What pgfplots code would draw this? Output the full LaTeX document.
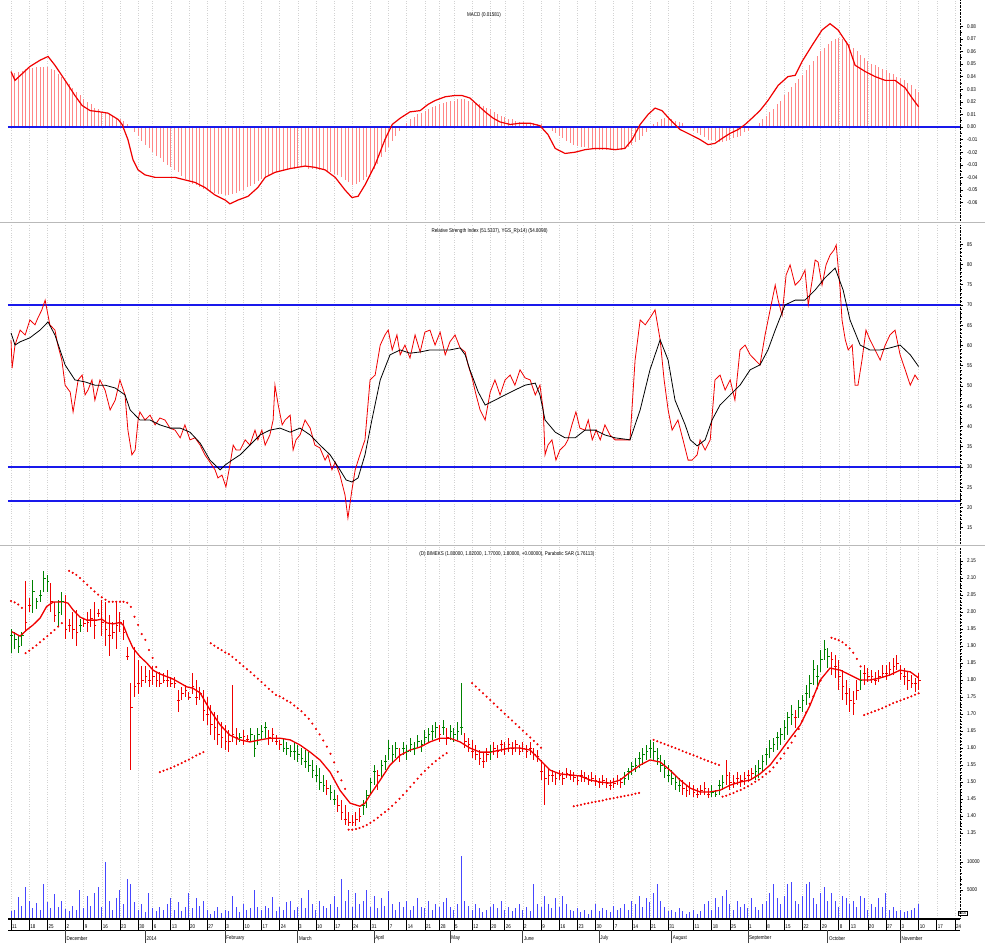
\documentclass[border=0pt]{standalone}
\usepackage{pgfplots}
\usepackage{pgfplotstable}
\pgfplotsset{compat=1.18}
\usepackage{fontspec}
\setmainfont{Liberation Sans}[FakeStretch=0.82]

\definecolor{upg}{RGB}{0,130,0}
\definecolor{dnr}{RGB}{240,0,0}
\definecolor{histr}{RGB}{255,135,135}
\definecolor{volb}{RGB}{70,70,255}
\definecolor{lineblue}{RGB}{25,25,235}
\newcommand{\tf}{\fontsize{5.5}{6.5}\selectfont}

\pgfplotstableread{
d h l c
0 1.95 1.88 1.93
1 1.94 1.89 1.92
2 1.93 1.88 1.90
3 1.94 1.90 1.93
6 2.094 1.997 2.06
7 2.04 2.01 2.03
8 2.065 2.03 2.05
9 2.12 2.06 2.10
10 2.11 2.06 2.09
13 2.035 1.96 2.00
14 2.06 1.99 2.03
19 1.98 1.94 1.96
63 1.644 1.618 1.63
66 1.66 1.618 1.64
67 1.638 1.574 1.60
68 1.66 1.61 1.64
69 1.668 1.624 1.65
70 1.676 1.63 1.66
75 1.629 1.588 1.60
76 1.618 1.579 1.60
77 1.609 1.574 1.59
78 1.618 1.565 1.59
79 1.609 1.559 1.58
80 1.60 1.55 1.57
81 1.594 1.541 1.56
82 1.588 1.529 1.55
83 1.565 1.512 1.535
84 1.55 1.50 1.52
85 1.541 1.476 1.50
86 1.52 1.471 1.49
88 1.491 1.447 1.47
89 1.476 1.432 1.45
97 1.447 1.403 1.43
98 1.476 1.424 1.46
99 1.512 1.462 1.50
100 1.55 1.491 1.53
102 1.565 1.512 1.55
103 1.579 1.535 1.56
104 1.624 1.565 1.60
105 1.609 1.559 1.58
106 1.618 1.571 1.60
108 1.618 1.579 1.60
109 1.609 1.565 1.59
110 1.629 1.588 1.61
111 1.618 1.579 1.60
112 1.638 1.60 1.62
113 1.624 1.588 1.61
114 1.653 1.609 1.63
115 1.66 1.618 1.64
116 1.668 1.624 1.65
117 1.676 1.629 1.66
119 1.682 1.638 1.66
121 1.668 1.624 1.65
122 1.66 1.618 1.64
123 1.676 1.624 1.65
124 1.791 1.638 1.66
132 1.609 1.565 1.59
169 1.529 1.491 1.51
170 1.541 1.506 1.53
171 1.559 1.521 1.545
172 1.571 1.529 1.55
173 1.588 1.541 1.57
174 1.60 1.55 1.58
175 1.609 1.565 1.59
176 1.624 1.571 1.60
177 1.618 1.565 1.59
178 1.60 1.55 1.57
179 1.579 1.529 1.55
180 1.565 1.512 1.54
181 1.55 1.50 1.52
182 1.535 1.491 1.51
183 1.521 1.476 1.50
184 1.512 1.471 1.49
193 1.491 1.456 1.47
194 1.476 1.456 1.465
195 1.506 1.462 1.49
196 1.521 1.476 1.50
205 1.55 1.506 1.53
206 1.565 1.512 1.54
207 1.579 1.529 1.56
208 1.60 1.55 1.58
209 1.624 1.571 1.60
210 1.629 1.588 1.61
211 1.647 1.594 1.63
212 1.66 1.609 1.64
213 1.682 1.624 1.66
214 1.706 1.638 1.69
215 1.726 1.668 1.70
217 1.741 1.688 1.72
218 1.756 1.706 1.74
219 1.785 1.726 1.76
220 1.815 1.747 1.79
221 1.859 1.785 1.83
222 1.844 1.776 1.81
223 1.888 1.824 1.86
224 1.918 1.859 1.89
225 1.894 1.835 1.87
234 1.829 1.771 1.80
}\uptab

\pgfplotstableread{
d h l c
4 2.09 1.94 1.97
5 2.04 2.00 2.02
11 2.085 2.00 2.03
12 2.03 1.97 1.99
15 2.05 1.92 1.95
16 1.98 1.94 1.96
17 2.00 1.92 1.95
18 2.006 1.90 1.94
20 1.98 1.955 1.965
21 2.00 1.94 1.97
22 2.01 1.955 1.98
23 2.03 1.92 1.96
24 2.01 1.985 1.995
25 2.035 1.93 1.97
26 2.03 1.90 1.95
27 1.99 1.87 1.93
28 1.97 1.92 1.94
29 2.03 1.89 1.96
30 2.00 1.94 1.97
31 1.976 1.918 1.94
32 1.897 1.859 1.87
33 1.79 1.535 1.72
34 1.897 1.75 1.78
35 1.86 1.76 1.79
36 1.84 1.78 1.80
37 1.84 1.79 1.81
38 1.83 1.78 1.80
39 1.84 1.785 1.81
40 1.82 1.78 1.80
41 1.823 1.78 1.79
42 1.82 1.79 1.80
43 1.83 1.78 1.80
44 1.81 1.78 1.79
45 1.81 1.777 1.79
46 1.77 1.706 1.74
47 1.78 1.74 1.76
48 1.785 1.75 1.77
49 1.765 1.74 1.75
50 1.82 1.76 1.78
51 1.80 1.726 1.75
52 1.78 1.74 1.76
53 1.77 1.68 1.71
54 1.75 1.668 1.70
55 1.726 1.638 1.67
56 1.706 1.624 1.66
57 1.697 1.609 1.64
58 1.676 1.60 1.63
59 1.668 1.594 1.62
60 1.653 1.588 1.62
61 1.785 1.618 1.64
62 1.66 1.61 1.63
64 1.653 1.609 1.635
65 1.638 1.618 1.625
71 1.653 1.61 1.63
72 1.66 1.618 1.64
73 1.638 1.609 1.62
74 1.624 1.594 1.61
87 1.506 1.462 1.48
90 1.462 1.412 1.43
91 1.447 1.388 1.41
92 1.432 1.374 1.39
93 1.412 1.37 1.38
94 1.403 1.37 1.38
95 1.412 1.37 1.39
96 1.424 1.382 1.40
101 1.535 1.476 1.52
107 1.60 1.559 1.58
118 1.668 1.618 1.64
120 1.66 1.609 1.63
125 1.644 1.60 1.62
126 1.629 1.588 1.61
127 1.624 1.571 1.59
128 1.609 1.565 1.58
129 1.594 1.55 1.57
130 1.588 1.541 1.56
131 1.60 1.559 1.58
133 1.618 1.579 1.60
134 1.609 1.571 1.59
135 1.624 1.588 1.61
136 1.618 1.579 1.60
137 1.629 1.588 1.61
138 1.618 1.579 1.60
139 1.624 1.588 1.61
140 1.609 1.579 1.59
141 1.618 1.588 1.60
142 1.609 1.571 1.59
143 1.618 1.579 1.60
144 1.60 1.565 1.58
145 1.594 1.559 1.575
146 1.565 1.506 1.53
147 1.55 1.432 1.51
148 1.541 1.491 1.52
149 1.535 1.50 1.52
150 1.529 1.491 1.51
151 1.535 1.506 1.52
152 1.529 1.491 1.51
153 1.541 1.512 1.525
154 1.535 1.506 1.52
155 1.529 1.50 1.515
156 1.521 1.491 1.505
157 1.535 1.50 1.52
158 1.529 1.50 1.515
159 1.521 1.491 1.505
160 1.529 1.50 1.51
161 1.521 1.488 1.505
162 1.512 1.482 1.50
163 1.521 1.491 1.505
164 1.512 1.482 1.495
165 1.506 1.476 1.49
166 1.512 1.482 1.495
167 1.521 1.491 1.505
168 1.512 1.482 1.50
185 1.506 1.462 1.48
186 1.491 1.456 1.475
187 1.50 1.462 1.48
188 1.491 1.456 1.47
189 1.482 1.453 1.465
190 1.491 1.462 1.475
191 1.50 1.462 1.48
192 1.482 1.453 1.465
197 1.565 1.491 1.52
198 1.529 1.476 1.50
199 1.521 1.482 1.50
200 1.529 1.491 1.51
201 1.521 1.485 1.505
202 1.529 1.491 1.51
203 1.535 1.50 1.52
204 1.541 1.506 1.525
216 1.712 1.66 1.69
226 1.882 1.815 1.86
227 1.874 1.806 1.84
228 1.859 1.771 1.81
229 1.829 1.741 1.78
230 1.80 1.726 1.76
231 1.776 1.706 1.74
232 1.768 1.697 1.73
233 1.80 1.741 1.77
235 1.844 1.785 1.82
236 1.835 1.794 1.81
237 1.829 1.791 1.81
238 1.823 1.785 1.80
239 1.829 1.794 1.81
240 1.844 1.806 1.82
241 1.844 1.80 1.82
242 1.853 1.812 1.83
243 1.865 1.815 1.84
244 1.874 1.829 1.85
245 1.844 1.80 1.82
246 1.835 1.785 1.81
247 1.823 1.771 1.80
248 1.815 1.776 1.79
249 1.806 1.765 1.79
250 1.82 1.77 1.80
}\dntab

\pgfplotsset{
  weekticks/.style={xtick={0,5,10,15,20,25,30,35,39,44,49,54,59,64,69,74,79,84,89,94,99,104,109,114,118,122,127,132,136,141,146,151,156,161,166,171,176,181,188,193,198,203,208,213,218,223,228,231,236,241,245,250,255,260}},
  panel/.style={
    scale only axis, width=952pt, xmin=-0.83, xmax=261.4, clip=false,
    anchor=south west,
    axis line style={draw=none},
    weekticks, xticklabels={}, x tick style={draw=none},
    xmajorgrids, x grid style={gray!35, dotted, line width=0.5pt},
    ytick pos=right, yticklabel pos=right, tick align=outside,
    major tick length=3pt, minor tick length=1.5pt,
    y tick style={black, line width=0.5pt},
    yticklabel style={font=\tf, anchor=west, xshift=0.5pt},
    /pgf/number format/assume math mode=true,
    scaled y ticks=false,
  },
}

\begin{document}
\begin{tikzpicture}
\useasboundingbox (0,0) rectangle (985pt,943pt);

% ---------------- MACD ----------------
\begin{axis}[panel, at={(8pt,721pt)}, height=222pt,
  ymin=-0.0754, ymax=0.1008,
  ytick={-0.06,-0.05,-0.04,-0.03,-0.02,-0.01,0,0.01,0.02,0.03,0.04,0.05,0.06,0.07,0.08},
  minor y tick num=1,
  yticklabel style={/pgf/number format/.cd, fixed, fixed zerofill, precision=2}]
\addplot[ycomb, color=histr, line width=0.7pt, mark=none] coordinates {
(0,0.042)(1,0.043)(2,0.044)(3,0.0445)(4,0.046)(5,0.047)(6,0.047)(7,0.0475)(8,0.048)(9,0.048)(10,0.0475)(11,0.046)(12,0.045)(13,0.042)(14,0.040)(15,0.037)(16,0.034)(17,0.031)(18,0.028)(19,0.025)(20,0.022)(21,0.020)(22,0.018)(23,0.015)(24,0.014)(25,0.012)(26,0.011)(27,0.010)(28,0.009)(29,0.007)(30,0.006)(31,0.005)(32,0.002)(33,0.000)(34,-0.004)(35,-0.007)(36,-0.011)(37,-0.014)(38,-0.017)(39,-0.020)(40,-0.023)(41,-0.025)(42,-0.028)(43,-0.030)(44,-0.032)(45,-0.034)(46,-0.036)(47,-0.039)(48,-0.041)(49,-0.043)(50,-0.045)(51,-0.046)(52,-0.048)(53,-0.049)(54,-0.050)(55,-0.051)(56,-0.052)(57,-0.053)(58,-0.053)(59,-0.054)(60,-0.054)(61,-0.053)(62,-0.052)(63,-0.051)(64,-0.050)(65,-0.048)(66,-0.047)(67,-0.045)(68,-0.043)(69,-0.041)(70,-0.040)(71,-0.038)(72,-0.037)(73,-0.036)(74,-0.035)(75,-0.034)(76,-0.033)(77,-0.033)(78,-0.033)(79,-0.032)(80,-0.032)(81,-0.032)(82,-0.033)(83,-0.033)(84,-0.033)(85,-0.034)(86,-0.034)(87,-0.035)(88,-0.036)(89,-0.037)(90,-0.038)(91,-0.040)(92,-0.042)(93,-0.044)(94,-0.046)(95,-0.045)(96,-0.044)(97,-0.042)(98,-0.040)(99,-0.038)(100,-0.033)(101,-0.029)(102,-0.024)(103,-0.020)(104,-0.016)(105,-0.011)(106,-0.007)(107,-0.003)(108,0.000)(109,0.003)(110,0.006)(111,0.008)(112,0.010)(113,0.011)(114,0.013)(115,0.014)(116,0.016)(117,0.017)(118,0.018)(119,0.019)(120,0.020)(121,0.021)(122,0.021)(123,0.022)(124,0.022)(125,0.022)(126,0.021)(127,0.020)(128,0.019)(129,0.018)(130,0.017)(131,0.015)(132,0.014)(133,0.012)(134,0.010)(135,0.009)(136,0.008)(137,0.006)(138,0.006)(139,0.005)(140,0.004)(141,0.004)(142,0.003)(143,0.003)(144,0.003)(145,0.002)(146,0.002)(147,0.000)(148,-0.001)(149,-0.003)(150,-0.005)(151,-0.007)(152,-0.009)(153,-0.011)(154,-0.013)(155,-0.014)(156,-0.015)(157,-0.016)(158,-0.016)(159,-0.017)(160,-0.017)(161,-0.018)(162,-0.018)(163,-0.018)(164,-0.018)(165,-0.018)(166,-0.018)(167,-0.018)(168,-0.018)(169,-0.017)(170,-0.016)(171,-0.014)(172,-0.012)(173,-0.010)(174,-0.007)(175,-0.004)(176,-0.001)(177,0.002)(178,0.004)(179,0.006)(180,0.007)(181,0.007)(182,0.006)(183,0.005)(184,0.004)(185,0.003)(186,0.001)(187,-0.001)(188,-0.003)(189,-0.005)(190,-0.006)(191,-0.008)(192,-0.010)(193,-0.010)(194,-0.011)(195,-0.012)(196,-0.012)(197,-0.011)(198,-0.010)(199,-0.009)(200,-0.008)(201,-0.007)(202,-0.004)(203,-0.003)(204,-0.001)(205,0.001)(206,0.003)(207,0.006)(208,0.009)(209,0.012)(210,0.014)(211,0.018)(212,0.021)(213,0.025)(214,0.028)(215,0.032)(216,0.035)(217,0.038)(218,0.041)(219,0.045)(220,0.049)(221,0.052)(222,0.056)(223,0.060)(224,0.063)(225,0.066)(226,0.068)(227,0.070)(228,0.071)(229,0.070)(230,0.068)(231,0.066)(232,0.063)(233,0.060)(234,0.057)(235,0.055)(236,0.052)(237,0.050)(238,0.049)(239,0.048)(240,0.046)(241,0.045)(242,0.043)(243,0.042)(244,0.040)(245,0.039)(246,0.037)(247,0.035)(248,0.033)(249,0.030)(250,0.028)};
\addplot[color=lineblue, line width=1.4pt] coordinates {(-0.83,0)(261.4,0)};
\addplot[color=dnr, line width=1.2pt] coordinates {
(0,0.044)(1.1,0.037)(5.2,0.048)(8,0.053)(10.2,0.056)(12.1,0.049)(14.9,0.037)(17.6,0.025)(19.6,0.017)(21.8,0.013)(24.5,0.012)(26.7,0.011)(29.5,0.006)(30.6,0.002)(32.2,-0.010)(33.6,-0.026)(35,-0.034)(36.9,-0.038)(39.7,-0.040)(42.4,-0.040)(45.2,-0.040)(47.9,-0.042)(50.7,-0.044)(53.4,-0.048)(56.2,-0.054)(59,-0.058)(60.3,-0.061)(62.5,-0.058)(65.3,-0.055)(68,-0.048)(70,-0.040)(72.7,-0.036)(76.9,-0.033)(81,-0.031)(83.7,-0.032)(86.5,-0.034)(89.3,-0.040)(92,-0.050)(93.9,-0.056)(95.6,-0.055)(97.5,-0.046)(100.3,-0.030)(103,-0.010)(105,0.002)(107.2,0.007)(109.9,0.012)(112.7,0.013)(114.9,0.018)(116.8,0.021)(119.6,0.024)(122.3,0.025)(124.2,0.025)(126.4,0.023)(128.7,0.017)(130.6,0.012)(132.8,0.007)(134.7,0.004)(137.5,0.002)(140.2,0.003)(143,0.003)(145.7,0.001)(147.9,-0.006)(149.9,-0.017)(152.6,-0.021)(155.4,-0.020)(158.1,-0.018)(160.9,-0.017)(163.6,-0.017)(166.4,-0.018)(169.1,-0.017)(171.1,-0.010)(173.3,0.002)(175.5,0.010)(177.4,0.015)(179.3,0.013)(181.5,0.006)(184.3,-0.002)(187.1,-0.006)(189.8,-0.010)(192,-0.014)(193.9,-0.013)(195.9,-0.009)(198.1,-0.005)(200.3,-0.002)(202.2,0.002)(204.1,0.007)(206.3,0.013)(208.5,0.021)(211.3,0.033)(214,0.040)(216,0.041)(217.9,0.052)(220.7,0.065)(223.4,0.077)(225.6,0.082)(227.8,0.077)(230.6,0.065)(232.5,0.049)(235.3,0.044)(238,0.040)(240.8,0.037)(243.5,0.037)(246.3,0.031)(248.2,0.023)(250,0.016)};
\node[font=\tf] at (rel axis cs:0.5,0.932) {MACD (0.01581)};
\draw[black, densely dotted, line width=0.4pt] (rel axis cs:1,0) -- (rel axis cs:1,1);
\draw[gray!55, line width=0.7pt] ([xshift=-8pt]rel axis cs:0,0) -- ([xshift=25pt]rel axis cs:1,0);
\end{axis}

% ---------------- RSI ----------------
\begin{axis}[panel, at={(8pt,398pt)}, height=320pt,
  ymin=10.74, ymax=89.75,
  ytick={15,20,25,30,35,40,45,50,55,60,65,70,75,80,85},
  minor y tick num=4]
\addplot[color=lineblue, line width=1.4pt] coordinates {(-0.83,70)(261.4,70)};
\addplot[color=lineblue, line width=1.4pt] coordinates {(-0.83,30)(261.4,30)};
\addplot[color=lineblue, line width=1.4pt] coordinates {(-0.83,21.6)(261.4,21.6)};
\addplot[color=dnr, line width=0.8pt] coordinates {
(0,61.4)(0.3,54.4)(1.1,60.1)(2.5,63.8)(3.9,62.6)(5.2,66.3)(6.6,65.1)(7.4,66.8)(8.5,68.8)(9.4,71.2)(10.7,65.1)(12.1,63.8)(12.9,60.1)(14.0,56.4)(14.9,50.2)(16.3,48.5)(17.1,43.6)(18.5,51.5)(19.6,52.7)(20.4,47.8)(21.2,49.0)(22.3,51.5)(23.1,46.5)(24.5,51.5)(25.9,49.0)(27.3,44.1)(28.7,46.5)(30.0,51.5)(31.4,47.8)(32.2,39.1)(33.3,33.0)(34.2,34.2)(35.0,41.6)(35.5,43.6)(36.9,41.6)(38.3,42.8)(39.7,40.4)(41.0,42.1)(42.4,41.6)(43.8,39.6)(45.2,39.1)(46.6,37.2)(47.9,40.4)(49.3,36.7)(50.7,37.2)(52.1,35.4)(53.4,33.0)(54.8,31.2)(56.2,29.3)(57.0,27.3)(58.1,28.0)(59.2,25.1)(60.3,30.5)(61.2,35.4)(62.0,34.2)(63.1,34.2)(64.5,36.7)(65.8,35.4)(67.2,39.1)(68.0,36.7)(69.1,39.1)(70.0,35.4)(71.3,37.9)(72.2,41.6)(72.7,50.2)(73.6,45.3)(74.7,40.4)(75.5,41.6)(76.9,42.8)(77.7,34.2)(78.5,36.7)(79.6,37.9)(81.0,41.6)(82.4,39.6)(83.7,35.4)(85.1,34.7)(86.5,31.7)(87.3,33.0)(88.4,29.3)(89.3,31.2)(90.6,28.0)(92.0,23.1)(92.8,17.4)(93.9,24.3)(94.8,29.3)(96.1,33.0)(97.5,36.7)(98.9,51.5)(100.3,52.7)(101.7,60.1)(103.0,62.6)(103.9,63.8)(105.0,58.9)(106.3,62.6)(107.2,57.7)(108.5,60.1)(109.9,56.9)(111.3,62.6)(112.7,58.4)(114.0,63.3)(115.4,63.8)(116.8,60.1)(118.2,63.3)(119.6,57.7)(120.9,60.9)(122.3,62.6)(123.7,59.4)(125.1,58.4)(125.9,55.2)(127.0,52.0)(128.1,47.8)(129.2,44.1)(130.6,41.6)(132.0,48.5)(133.3,51.5)(134.7,47.8)(136.1,51.5)(137.5,52.7)(138.8,50.2)(140.2,54.0)(141.6,52.0)(143.0,51.5)(144.4,47.8)(145.7,50.2)(146.6,44.1)(147.1,33.0)(147.9,35.4)(149.0,36.7)(150.1,31.7)(151.2,34.2)(152.6,35.4)(153.4,36.7)(154.5,40.4)(155.6,43.6)(156.7,39.6)(158.1,39.1)(159.0,41.6)(160.1,36.7)(161.2,39.1)(162.3,36.7)(163.6,40.4)(165.0,37.9)(166.4,36.7)(167.8,36.7)(169.1,36.7)(170.5,36.7)(171.9,56.4)(173.3,66.3)(174.7,65.1)(176.0,66.8)(177.4,68.8)(178.8,61.4)(179.9,51.5)(181.0,44.1)(182.1,39.1)(183.7,41.6)(185.1,36.7)(186.5,31.7)(187.6,31.7)(189.0,33.0)(189.8,36.7)(191.2,34.2)(192.6,36.7)(193.9,51.5)(195.3,52.7)(196.7,49.0)(198.1,51.5)(199.4,46.5)(200.8,58.9)(202.2,60.1)(203.6,57.7)(205.0,56.4)(206.3,55.2)(207.7,62.6)(209.1,68.8)(210.5,74.9)(211.3,71.2)(212.4,67.5)(213.5,77.4)(214.6,79.9)(216.0,74.9)(217.4,76.2)(218.7,78.6)(219.6,70.0)(220.7,76.2)(221.5,81.1)(222.3,80.6)(223.4,74.9)(224.5,79.9)(225.6,82.3)(226.7,83.6)(227.3,84.8)(228.4,73.7)(228.9,66.3)(229.8,61.4)(230.6,58.9)(231.7,60.1)(232.5,50.2)(233.3,50.2)(234.4,56.4)(235.5,63.8)(236.6,61.4)(238.0,58.9)(239.4,56.4)(240.8,60.1)(242.1,62.6)(243.5,63.8)(244.9,57.7)(246.3,54.0)(247.7,50.2)(249.0,52.7)(249.9,51.5)};
\addplot[color=black, line width=0.8pt] coordinates {
(0,63.1)(1.1,60.1)(2.5,60.9)(5.2,61.9)(8,63.8)(10.2,65.8)(12.1,62.6)(14.9,55.2)(17.6,51.5)(20.4,51.0)(23.1,50.2)(25.9,50.2)(28.7,49.5)(31.4,47.8)(32.8,44.1)(35.5,41.6)(38.3,41.6)(41,40.4)(43.8,39.6)(46.6,39.6)(49.3,38.6)(52.1,35.9)(54.8,31.7)(57.6,29.3)(59,30.5)(60.9,31.7)(63.1,33.0)(65.8,35.4)(68.6,37.9)(71.3,39.1)(74.1,39.6)(76.9,38.6)(79.6,39.6)(82.4,37.9)(85.1,35.4)(87.9,33.0)(90.6,29.3)(92.3,26.8)(93.9,26.3)(95.6,27.3)(97.5,33.0)(99.4,41.6)(101.7,51.5)(104.4,57.7)(107.2,58.9)(109.9,58.1)(112.7,58.4)(115.4,58.9)(118.2,58.9)(120.9,58.9)(123.7,59.4)(125.1,57.7)(126.4,54.0)(128.7,48.5)(130.6,45.3)(133.3,46.5)(136.1,47.8)(138.8,49.0)(141.6,50.2)(144.4,50.7)(145.7,47.8)(147.1,41.6)(149.9,38.6)(152.6,37.2)(155.4,37.2)(158.1,39.1)(160.9,39.1)(163.6,37.9)(166.4,37.2)(170.5,36.7)(173.3,44.1)(176,54.0)(178.8,61.4)(181,56.4)(182.9,46.5)(185.7,40.4)(187.1,36.7)(189,35.2)(191.2,36.7)(193.1,41.6)(195.3,45.3)(198.1,47.8)(200.8,50.2)(203.6,54.0)(206.3,55.2)(208.5,58.9)(210.5,63.8)(213.2,70.0)(216,71.2)(218.7,71.2)(221.5,73.7)(224.2,76.7)(227,79.1)(229.2,73.7)(231.1,66.3)(233.9,60.1)(236.6,58.9)(239.4,58.9)(242.1,59.4)(244.9,60.1)(247.7,57.7)(250,54.8)};
\node[font=\tf] at (rel axis cs:0.506,0.981) {Relative Strength Index (51.5337), YGS\_R(x14) (54.8098)};
\draw[black, densely dotted, line width=0.4pt] (rel axis cs:1,0) -- (rel axis cs:1,1);
\draw[gray!55, line width=0.7pt] ([xshift=-8pt]rel axis cs:0,0) -- ([xshift=25pt]rel axis cs:1,0);
\end{axis}

% ---------------- Price ----------------
\begin{axis}[panel, at={(8pt,98pt)}, height=298pt,
  ymin=1.315, ymax=2.191,
  ytick={1.35,1.40,1.45,1.50,1.55,1.60,1.65,1.70,1.75,1.80,1.85,1.90,1.95,2.00,2.05,2.10,2.15},
  minor y tick num=4,
  yticklabel style={/pgf/number format/.cd, fixed, fixed zerofill, precision=2}]
\addplot[only marks, color=upg, mark=-, mark size=1.3pt, mark options={line width=0.8pt, xshift=0.6pt},
  error bars/.cd, y dir=both, y explicit, error mark=none,
  error bar style={color=upg, line width=0.9pt}]
  table[x=d, y=c, y error plus expr=\thisrow{h}-\thisrow{c}, y error minus expr=\thisrow{c}-\thisrow{l}] {\uptab};
\addplot[only marks, color=dnr, mark=-, mark size=1.3pt, mark options={line width=0.8pt, xshift=0.6pt},
  error bars/.cd, y dir=both, y explicit, error mark=none,
  error bar style={color=dnr, line width=0.9pt}]
  table[x=d, y=c, y error plus expr=\thisrow{h}-\thisrow{c}, y error minus expr=\thisrow{c}-\thisrow{l}] {\dntab};
\addplot[color=dnr, line width=1.3pt] coordinates {
(0.2,1.942)(2.5,1.929)(4.3,1.947)(6.1,1.962)(8,1.982)(9.8,2.016)(11.6,2.029)(14.3,2.030)(15.7,2.026)(17.1,2.006)(19,1.985)(20.9,1.976)(23.6,1.976)(25,1.979)(26.4,1.968)(28.1,1.965)(30,1.969)(30.9,1.962)(32.2,1.927)(33.6,1.894)(35.5,1.869)(37.4,1.85)(39.1,1.829)(41,1.818)(42.9,1.81)(44.6,1.803)(46.6,1.791)(48.4,1.78)(50.1,1.776)(52.1,1.762)(54.8,1.712)(57.6,1.668)(60.3,1.638)(63.1,1.624)(65.8,1.618)(68.6,1.624)(71.3,1.629)(74.1,1.629)(76.9,1.624)(79.6,1.609)(82.4,1.588)(85.1,1.565)(87.9,1.529)(90.6,1.476)(93.4,1.438)(96.1,1.429)(97.5,1.438)(98.9,1.462)(101.7,1.506)(104.4,1.55)(107.2,1.579)(109.9,1.594)(112.7,1.603)(115.4,1.618)(118.2,1.629)(120.9,1.629)(123.7,1.618)(126.4,1.6)(129.2,1.588)(132,1.588)(134.7,1.594)(137.5,1.6)(140.2,1.6)(143,1.594)(145.7,1.565)(148.5,1.535)(151.2,1.524)(154,1.521)(156.7,1.518)(159.5,1.506)(162.3,1.5)(165,1.497)(167.8,1.506)(170.5,1.529)(173.3,1.55)(176,1.565)(178.8,1.559)(181.5,1.535)(184.3,1.506)(187.1,1.482)(189.8,1.471)(192.6,1.471)(195.3,1.476)(198.1,1.491)(200.8,1.5)(203.6,1.506)(206.3,1.524)(209.1,1.55)(211.8,1.588)(214.6,1.629)(217.4,1.668)(220.1,1.726)(222.9,1.8)(225.6,1.835)(228.4,1.829)(231.1,1.815)(233.9,1.8)(236.6,1.8)(239.4,1.806)(242.1,1.815)(244.9,1.829)(247.7,1.824)(250,1.806)};
\addplot[only marks, color=dnr, mark=*, mark size=0.85pt] coordinates {
(0,2.032)(1,2.028)(2,2.022)(3,2.012)
(4,1.879)(5,1.886)(6,1.894)(7,1.902)(8,1.911)(9,1.92)(10,1.929)(11,1.938)(12,1.947)(13,1.957)(14,1.967)
(16,2.121)(17,2.115)(18,2.109)(19,2.10)(20,2.09)(21,2.08)(22,2.07)(23,2.06)(24,2.051)(25,2.043)(26,2.036)(27,2.03)(28,2.03)(29,2.03)(30,2.03)(31,2.03)(32,2.027)(33,2.015)(34,1.986)(35,1.962)(36,1.935)(37,1.918)(38,1.888)(39,1.865)(40,1.838)
(41,1.529)(42,1.533)(43,1.537)(44,1.541)(45,1.546)(46,1.551)(47,1.556)(48,1.561)(49,1.566)(50,1.572)(51,1.578)(52,1.583)(53,1.588)
(55,1.908)(56,1.901)(57,1.894)(58,1.888)(59,1.881)(60,1.876)(61,1.868)(62,1.859)(63,1.85)(64,1.841)(65,1.832)(66,1.823)(67,1.813)(68,1.804)(69,1.794)(70,1.784)(71,1.774)(72,1.765)(73,1.756)(74,1.752)(75,1.746)(76,1.739)(77,1.734)(78,1.725)(79,1.717)(80,1.708)(81,1.697)(82,1.686)(83,1.672)(84,1.656)(85,1.64)(86,1.622)(87,1.604)(88,1.583)(89,1.558)(90,1.53)(91,1.505)(92,1.48)
(93,1.36)(94,1.36)(95,1.362)(96,1.365)(97,1.369)(98,1.374)(99,1.38)(100,1.387)(101,1.395)(102,1.404)(103,1.412)(104,1.42)(105,1.43)(106,1.44)(107,1.451)(108,1.462)(109,1.474)(110,1.486)(111,1.498)(112,1.51)(113,1.522)(114,1.533)(115,1.543)(116,1.553)(117,1.562)(118,1.57)(119,1.578)(120,1.585)
(127,1.791)(128,1.781)(129,1.771)(130,1.761)(131,1.751)(132,1.741)(133,1.731)(134,1.721)(135,1.711)(136,1.701)(137,1.691)(138,1.681)(139,1.671)(140,1.661)(141,1.651)(142,1.641)(143,1.631)(144,1.621)(145,1.611)(146,1.601)
(155,1.429)(156,1.431)(157,1.433)(158,1.436)(159,1.438)(160,1.44)(161,1.442)(162,1.444)(163,1.446)(164,1.449)(165,1.451)(166,1.453)(167,1.455)(168,1.457)(169,1.459)(170,1.461)(171,1.463)(172,1.466)(173,1.468)
(177,1.624)(178,1.62)(179,1.616)(180,1.612)(181,1.608)(182,1.604)(183,1.6)(184,1.596)(185,1.591)(186,1.587)(187,1.583)(188,1.579)(189,1.575)(190,1.57)(191,1.566)(192,1.562)(193,1.558)(194,1.554)(195,1.55)
(196,1.457)(197,1.46)(198,1.464)(199,1.468)(200,1.473)(201,1.477)(202,1.482)(203,1.488)(204,1.494)(205,1.501)(206,1.507)(207,1.515)(208,1.524)(209,1.531)(210,1.543)(211,1.556)(212,1.569)(213,1.584)(214,1.6)(215,1.616)(216,1.635)(217,1.656)(218,1.68)(219,1.705)(220,1.73)(221,1.752)(222,1.775)(223,1.798)
(226,1.924)(227,1.921)(228,1.917)(229,1.911)(230,1.903)(231,1.893)(232,1.88)(233,1.862)(234,1.84)
(235,1.697)(236,1.701)(237,1.705)(238,1.709)(239,1.713)(240,1.717)(241,1.722)(242,1.727)(243,1.732)(244,1.736)(245,1.74)(246,1.744)(247,1.748)(248,1.752)(249,1.757)(250,1.761)};
\node[font=\tf] at (rel axis cs:0.524,0.977) {(D) BIMEKS (1.80000, 1.82000, 1.77000, 1.80000, +0.00000), Parabolic SAR (1.76113)};
\draw[black, densely dotted, line width=0.4pt] (rel axis cs:1,0) -- (rel axis cs:1,1);
\end{axis}

% ---------------- Volume ----------------
\begin{axis}[panel, at={(8pt,25pt)}, height=70pt,
  ymin=0, ymax=12500,
  ytick={5000,10000}, minor y tick num=4,
  yticklabel style={/pgf/number format/.cd, fixed, 1000 sep={}}]
\addplot[ycomb, color=volb, line width=1pt, mark=none] coordinates {
(0,1200)(1,1500)(2,3800)(3,2200)(4,5500)(5,3000)(6,1800)(7,2600)(8,1500)(9,6000)(10,2800)(11,1700)(12,4200)(13,2000)(14,3000)(15,1600)(16,1200)(17,2200)(18,1400)(19,5000)(20,1800)(21,4000)(22,2200)(23,4500)(24,5500)(25,2000)(26,10000)(27,3000)(28,1500)(29,3500)(30,5000)(31,2500)(32,7000)(33,6000)(34,2800)(35,1500)(36,2500)(37,1000)(38,4500)(39,1800)(40,1200)(41,2000)(42,1500)(43,2500)(44,3500)(45,1500)(46,2800)(47,1200)(48,2000)(49,4500)(50,1800)(51,3500)(52,2200)(53,3000)(54,1500)(55,800)(56,1200)(57,2000)(58,900)(59,1500)(60,1200)(61,4000)(62,2000)(63,1000)(64,2500)(65,1500)(66,1800)(67,5000)(68,2000)(69,1500)(70,2200)(71,1800)(72,3800)(73,1200)(74,2000)(75,1500)(76,2800)(77,3000)(78,1500)(79,2000)(80,3500)(81,1800)(82,5000)(83,2500)(84,1500)(85,3000)(86,2200)(87,1800)(88,2500)(89,4000)(90,2000)(91,7000)(92,3000)(93,5000)(94,2000)(95,4500)(96,2500)(97,3000)(98,5000)(99,2000)(100,4000)(101,1800)(102,3500)(103,2200)(104,4800)(105,2500)(106,1500)(107,2800)(108,2000)(109,3000)(110,1500)(111,2200)(112,3500)(113,2000)(114,1800)(115,3000)(116,1500)(117,2500)(118,2000)(119,2800)(120,3500)(121,2000)(122,1500)(123,2500)(124,11000)(125,3000)(126,2200)(127,1500)(128,2500)(129,1800)(130,1000)(131,1500)(132,2000)(133,2500)(134,1800)(135,3000)(136,1500)(137,2000)(138,1200)(139,1800)(140,2500)(141,1500)(142,2000)(143,1200)(144,6000)(145,2500)(146,2000)(147,4000)(148,2500)(149,1800)(150,3500)(151,2000)(152,4000)(153,2500)(154,1500)(155,1200)(156,1800)(157,1000)(158,1500)(159,800)(160,1500)(161,2500)(162,1200)(163,1800)(164,1500)(165,1000)(166,2200)(167,1500)(168,1800)(169,2500)(170,1500)(171,3000)(172,2500)(173,4000)(174,2000)(175,3500)(176,2800)(177,4500)(178,6000)(179,3000)(180,2000)(181,1200)(182,1500)(183,1000)(184,1800)(185,1200)(186,800)(187,1000)(188,1500)(189,800)(190,1200)(191,2500)(192,3000)(193,1500)(194,3500)(195,2000)(196,4000)(197,5000)(198,2500)(199,1500)(200,3000)(201,2000)(202,2500)(203,1800)(204,3500)(205,2000)(206,1500)(207,2500)(208,3000)(209,4500)(210,6000)(211,3500)(212,2500)(213,4000)(214,6000)(215,6500)(216,3000)(217,2500)(218,4000)(219,6000)(220,6500)(221,3500)(222,2500)(223,4500)(224,5500)(225,3000)(226,4500)(227,3000)(228,2000)(229,4000)(230,3500)(231,2500)(232,3000)(233,2000)(234,4000)(235,3500)(236,1500)(237,2500)(238,2000)(239,3500)(240,2000)(241,4500)(242,1500)(243,2000)(244,1200)(245,1500)(246,1000)(247,1200)(248,1500)(249,1800)(250,2500)};
\draw[black, densely dotted, line width=0.4pt] (rel axis cs:1,0) -- (rel axis cs:1,1);
\node[draw=black, line width=0.6pt, inner sep=0.8pt, font=\fontsize{4}{4.5}\selectfont, anchor=south west] at ([xshift=-2pt,yshift=2pt]rel axis cs:1,0) {x100};
\end{axis}

% ---------------- Date axis (weeks) ----------------
\begin{axis}[scale only axis, width=952pt, height=11pt, at={(8pt,13pt)}, anchor=south west,
  xmin=-0.83, xmax=261.4, ymin=0, ymax=1, clip=false,
  axis line style={draw=none}, ytick=\empty,
  weekticks,
  xticklabels={11,18,25,2,9,16,23,30,6,13,20,27,3,10,17,24,3,10,17,24,31,7,14,21,28,5,12,20,26,2,9,16,23,30,7,14,21,31,11,18,25,1,8,15,22,29,8,13,20,27,3,10,17,24},
  xtick pos=bottom, xtick align=inside, major tick length=11pt,
  x tick style={black, line width=0.6pt},
  xticklabel style={anchor=south west, inner sep=1pt, font=\tf}]
\draw[black, line width=1.3pt] (rel axis cs:0,1) -- (rel axis cs:1,1);
\draw[black, line width=0.8pt] (rel axis cs:0,0) -- (rel axis cs:1,0);
\end{axis}

% ---------------- Date axis (months) ----------------
\begin{axis}[scale only axis, width=952pt, height=13pt, at={(8pt,0pt)}, anchor=south west,
  xmin=-0.83, xmax=261.4, ymin=0, ymax=1, clip=false,
  axis line style={draw=none}, ytick=\empty,
  xtick={15,37,59,79,100,121,141,162,182,203,225,245},
  xticklabels={December,2014,February,March,April,May,June,July,August,September,October,November},
  xtick pos=bottom, xtick align=inside, major tick length=13pt,
  x tick style={black!75, line width=0.9pt},
  xticklabel style={anchor=south west, inner sep=1pt, yshift=1pt, font=\tf}]
\end{axis}

\end{tikzpicture}
\end{document}
